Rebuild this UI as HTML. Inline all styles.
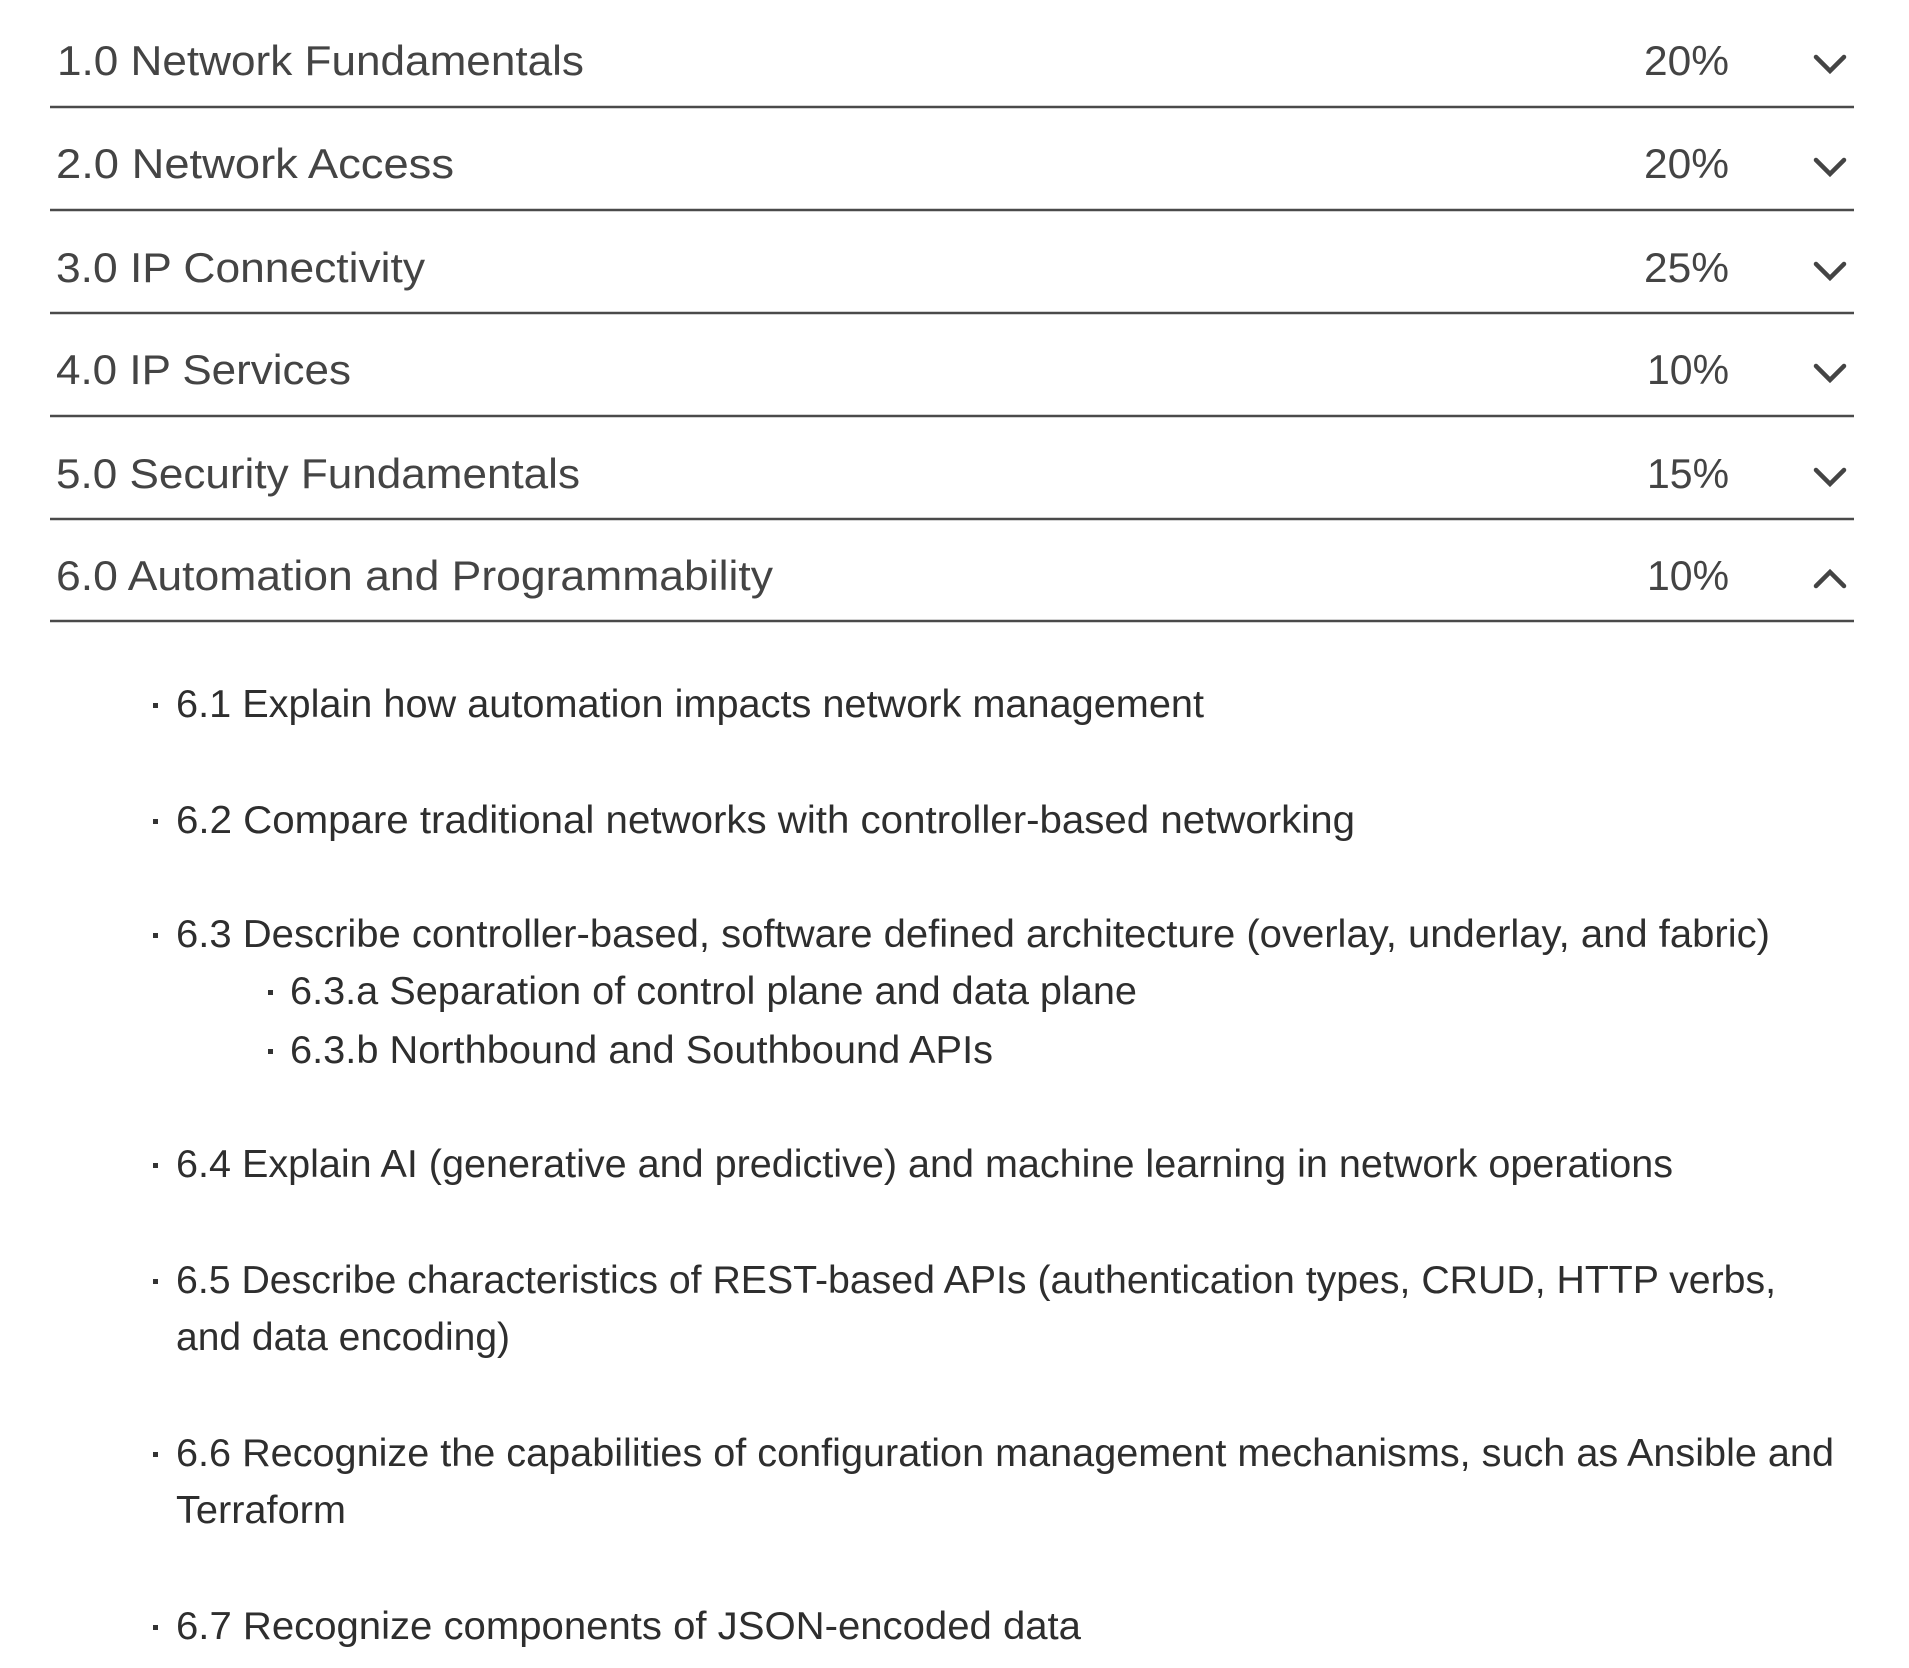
<!DOCTYPE html>
<html><head><meta charset="utf-8"><style>
html,body{margin:0;padding:0;background:#fff;width:1909px;height:1668px;overflow:hidden}
svg{display:block}
.h{font-family:"Liberation Sans",sans-serif;font-size:42px;fill:#444}
.i{font-family:"Liberation Sans",sans-serif;font-size:39px;fill:#2e2e2e}
</style></head><body>
<svg width="1909" height="1668" viewBox="0 0 1909 1668" xmlns="http://www.w3.org/2000/svg">
<g stroke="#4a4a4a" stroke-width="2.5">
<line x1="50" y1="107" x2="1854" y2="107"/>
<line x1="50" y1="210" x2="1854" y2="210"/>
<line x1="50" y1="313" x2="1854" y2="313"/>
<line x1="50" y1="416" x2="1854" y2="416"/>
<line x1="50" y1="519" x2="1854" y2="519"/>
<line x1="50" y1="621" x2="1854" y2="621"/>
</g>
<g class="h">
<text x="57" y="75" textLength="527" lengthAdjust="spacingAndGlyphs">1.0 Network Fundamentals</text>
<text x="56" y="178" textLength="398" lengthAdjust="spacingAndGlyphs">2.0 Network Access</text>
<text x="56" y="282" textLength="369" lengthAdjust="spacingAndGlyphs">3.0 IP Connectivity</text>
<text x="56" y="384" textLength="295" lengthAdjust="spacingAndGlyphs">4.0 IP Services</text>
<text x="56" y="488" textLength="524" lengthAdjust="spacingAndGlyphs">5.0 Security Fundamentals</text>
<text x="56" y="590" textLength="717" lengthAdjust="spacingAndGlyphs">6.0 Automation and Programmability</text>
<text x="1644" y="75" textLength="85" lengthAdjust="spacingAndGlyphs">20%</text>
<text x="1644" y="178" textLength="85" lengthAdjust="spacingAndGlyphs">20%</text>
<text x="1644" y="282" textLength="85" lengthAdjust="spacingAndGlyphs">25%</text>
<text x="1647" y="384" textLength="82" lengthAdjust="spacingAndGlyphs">10%</text>
<text x="1647" y="488" textLength="82" lengthAdjust="spacingAndGlyphs">15%</text>
<text x="1647" y="590" textLength="82" lengthAdjust="spacingAndGlyphs">10%</text>
</g>
<g fill="none" stroke="#444" stroke-width="4.5" stroke-linecap="round" stroke-linejoin="miter">
<polyline points="1816,57 1830,71 1844,57"/>
<polyline points="1816,160 1830,174 1844,160"/>
<polyline points="1816,264 1830,278 1844,264"/>
<polyline points="1816,366 1830,380 1844,366"/>
<polyline points="1816,470 1830,484 1844,470"/>
<polyline points="1816,586 1830,572 1844,586"/>
</g>
<g fill="#333">
<rect x="153" y="703" width="5" height="5"/>
<rect x="153" y="819" width="5" height="5"/>
<rect x="153" y="933" width="5" height="5"/>
<rect x="268" y="990" width="5" height="5"/>
<rect x="268" y="1049" width="5" height="5"/>
<rect x="153" y="1163" width="5" height="5"/>
<rect x="153" y="1279" width="5" height="5"/>
<rect x="153" y="1452" width="5" height="5"/>
<rect x="153" y="1625" width="5" height="5"/>
</g>
<g class="i">
<text x="176" y="717" textLength="1028" lengthAdjust="spacingAndGlyphs">6.1 Explain how automation impacts network management</text>
<text x="176" y="833" textLength="1179" lengthAdjust="spacingAndGlyphs">6.2 Compare traditional networks with controller-based networking</text>
<text x="176" y="947" textLength="1594" lengthAdjust="spacingAndGlyphs">6.3 Describe controller-based, software defined architecture (overlay, underlay, and fabric)</text>
<text x="290" y="1004" textLength="847" lengthAdjust="spacingAndGlyphs">6.3.a Separation of control plane and data plane</text>
<text x="290" y="1063" textLength="703" lengthAdjust="spacingAndGlyphs">6.3.b Northbound and Southbound APIs</text>
<text x="176" y="1177" textLength="1497" lengthAdjust="spacingAndGlyphs">6.4 Explain AI (generative and predictive) and machine learning in network operations</text>
<text x="176" y="1293" textLength="1600" lengthAdjust="spacingAndGlyphs">6.5 Describe characteristics of REST-based APIs (authentication types, CRUD, HTTP verbs,</text>
<text x="176" y="1350" textLength="334" lengthAdjust="spacingAndGlyphs">and data encoding)</text>
<text x="176" y="1466" textLength="1658" lengthAdjust="spacingAndGlyphs">6.6 Recognize the capabilities of configuration management mechanisms, such as Ansible and</text>
<text x="176" y="1523" textLength="170" lengthAdjust="spacingAndGlyphs">Terraform</text>
<text x="176" y="1639" textLength="905" lengthAdjust="spacingAndGlyphs">6.7 Recognize components of JSON-encoded data</text>
</g>
</svg>
</body></html>
